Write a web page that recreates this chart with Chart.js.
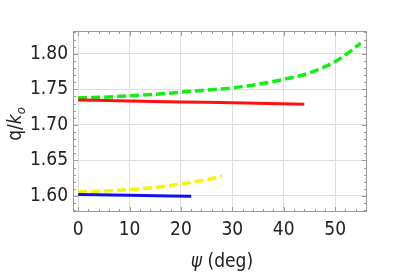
<!DOCTYPE html>
<html>
<head>
<meta charset="utf-8">
<script src="https://cdn.jsdelivr.net/npm/chart.js@4/dist/chart.umd.min.js"></script>
<style>
  html, body { margin: 0; padding: 0; background: #fff; }
  #wrap { width: 398px; height: 272px; }
</style>
</head>
<body>
<div id="wrap"><canvas id="c" width="398" height="272"></canvas></div>
<script>
// ── data ───────────────────────────────────────────────────
const greenPsi = [0, 5, 10, 15, 20, 25, 30, 35, 40, 45, 50, 52.5, 55];
const greenQ   = [1.738, 1.739, 1.741, 1.743, 1.746, 1.749, 1.752, 1.757, 1.764, 1.773, 1.789, 1.801, 1.815];

const redPsi = [0, 10, 20, 30, 44];
const redQ   = [1.735, 1.7337, 1.7323, 1.731, 1.729];

const yellowPsi = [0, 5, 10, 15, 20, 25, 28];
const yellowQ   = [1.606, 1.607, 1.609, 1.612, 1.617, 1.623, 1.628];

const bluePsi = [0, 10, 22];
const blueQ   = [1.602, 1.601, 1.5995];

const xTicks = [0, 10, 20, 30, 40, 50];
const yTicks = [1.60, 1.65, 1.70, 1.75, 1.80];

const FONT = "'DejaVu Sans Condensed', 'DejaVu Sans', sans-serif";
const pts = (xs, ys) => xs.map((x, i) => ({ x, y: ys[i] }));

// inward ticks on all four sides + frame, Mathematica style
const frameTicks = {
  id: 'frameTicks',
  afterDraw(chart) {
    const { ctx, chartArea: { left, right, top, bottom } } = chart;
    const xs = chart.scales.x, ys = chart.scales.y;
    ctx.save();
    ctx.strokeStyle = '#9a9a9a';
    ctx.lineWidth = 1;
    ctx.beginPath();
    for (let v = -0; v <= 56; v += 2) {
      const px = Math.round(xs.getPixelForValue(v)) + 0.5;
      const len = v % 10 === 0 ? 5 : 3;
      ctx.moveTo(px, bottom); ctx.lineTo(px, bottom - len);
      ctx.moveTo(px, top);    ctx.lineTo(px, top + len);
    }
    for (let i = 158; i <= 183; i++) {
      const v = i / 100;
      const py = Math.round(ys.getPixelForValue(v)) + 0.5;
      const len = i % 5 === 0 ? 5 : 3;
      ctx.moveTo(left, py);  ctx.lineTo(left + len, py);
      ctx.moveTo(right, py); ctx.lineTo(right - len, py);
    }
    ctx.stroke();
    ctx.strokeRect(Math.round(left) + 0.5, Math.round(top) + 0.5,
                   Math.round(right - left) - 1, Math.round(bottom - top) - 1);

    // axis titles
    ctx.fillStyle = '#222';
    ctx.textBaseline = 'alphabetic';
    // x title: ψ (deg)
    const xt = [[`italic 19px ${FONT}`, 'ψ'], [`19px ${FONT}`, ' (deg)']];
    let w = 0;
    xt.forEach(([f, t]) => { ctx.font = f; w += ctx.measureText(t).width; });
    let x0 = 222 - w / 2;
    xt.forEach(([f, t]) => { ctx.font = f; ctx.fillText(t, x0, 267); x0 += ctx.measureText(t).width; });

    // y title: q/k_o rotated
    ctx.translate(21, 124);
    ctx.rotate(-Math.PI / 2);
    const yt = [[`19px ${FONT}`, 'q/', 0], [`italic 19px ${FONT}`, 'k', 0], [`italic 13px ${FONT}`, 'o', 4]];
    w = 0;
    yt.forEach(([f, t]) => { ctx.font = f; w += ctx.measureText(t).width; });
    x0 = -w / 2;
    yt.forEach(([f, t, dy]) => { ctx.font = f; ctx.fillText(t, x0, dy); x0 += ctx.measureText(t).width; });
    ctx.restore();
  }
};

const line = (data, color, dashed) => ({
  data,
  showLine: true,
  borderColor: color,
  backgroundColor: color,
  borderWidth: dashed ? 3.5 : 3,
  borderDash: dashed ? [9, 4] : [],
  pointRadius: 0,
  cubicInterpolationMode: 'monotone',
  fill: false,
});

new Chart(document.getElementById('c'), {
  type: 'scatter',
  data: {
    datasets: [
      line(pts(redPsi, redQ), '#ff1010', false),
      line(pts(bluePsi, blueQ), '#1010f0', false),
      line(pts(greenPsi, greenQ), '#11ee11', true),
      line(pts(yellowPsi, yellowQ), '#f5f500', true),
    ],
  },
  options: {
    responsive: false,
    animation: false,
    layout: { padding: { left: 0, top: 31, right: 31, bottom: 0 } },
    plugins: { legend: { display: false }, tooltip: { enabled: false } },
    scales: {
      x: {
        type: 'linear',
        min: -1, max: 56.2,
        afterFit(s) { s.height = 60; },
        afterBuildTicks(s) { s.ticks = xTicks.map(v => ({ value: v })); },
        grid: { color: '#dedede', drawTicks: false, lineWidth: 1 },
        border: { display: false },
        ticks: { color: '#222', padding: 7, font: { family: FONT, size: 19 }, maxRotation: 0 },
      },
      y: {
        type: 'linear',
        min: 1.5775, max: 1.832,
        afterFit(s) { s.width = 73; },
        afterBuildTicks(s) { s.ticks = yTicks.map(v => ({ value: v })); },
        grid: { color: '#dedede', drawTicks: false, lineWidth: 1 },
        border: { display: false },
        ticks: { color: '#222', padding: 5, font: { family: FONT, size: 19 },
                 callback: v => v.toFixed(2) },
      },
    },
  },
  plugins: [frameTicks],
});
</script>
</body>
</html>
